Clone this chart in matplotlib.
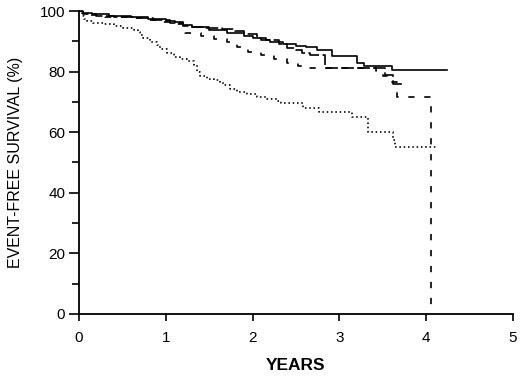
import matplotlib
matplotlib.use("Agg")
import matplotlib.pyplot as plt
from matplotlib.ticker import MultipleLocator

plt.rcParams['font.family'] = ['Liberation Sans', 'DejaVu Sans']
plt.rcParams['lines.scale_dashes'] = False

# solid curve
solid_t = [0, 0.05, 0.15, 0.35, 0.6, 0.8, 1.0, 1.1, 1.2, 1.3, 1.5, 1.7, 1.9, 2.0,
           2.1, 2.2, 2.35, 2.5, 2.62, 2.74, 2.92, 3.2, 3.28, 3.61, 4.24]
solid_s = [100, 99.2, 98.9, 98.4, 98.1, 97.4, 96.8, 96.4, 95.5, 94.8, 93.8, 92.8, 91.7, 91.2,
           90.3, 89.7, 89.1, 88.6, 88.0, 87.2, 85.0, 83.0, 82.0, 80.5, 80.5]

# long dashed curve
long_t = [0, 0.05, 0.2, 0.4, 0.65, 0.85, 1.05, 1.2, 1.3, 1.45, 1.65, 1.8, 1.9, 2.05,
          2.15, 2.3, 2.4, 2.5, 2.57, 2.66, 2.83, 3.52, 3.62, 3.72]
long_s = [100, 99.0, 98.5, 98.0, 97.6, 97.0, 96.2, 95.2, 94.6, 94.3, 94.1, 93.5, 92.3, 91.2,
          90.3, 89.0, 87.8, 87.0, 86.0, 85.5, 81.2, 79.0, 76.0, 76.0]

# short dashed curve
short_t = [0, 0.05, 0.3, 0.55, 0.75, 0.95, 1.1, 1.22, 1.4, 1.55, 1.7, 1.82, 1.95, 2.1,
           2.25, 2.4, 2.52, 2.62, 3.42, 3.5, 3.58, 3.66, 4.05]
short_s = [100, 98.8, 98.0, 97.6, 97.0, 96.3, 95.6, 92.8, 91.9, 90.9, 89.8, 88.2, 86.6, 85.6,
           84.2, 83.0, 81.7, 81.1, 80.3, 78.5, 76.5, 71.6, 0]

# dotted curve
dot_t = [0, 0.03, 0.06, 0.09, 0.16, 0.28, 0.4, 0.51, 0.63, 0.68, 0.7, 0.74, 0.82, 0.9,
         0.93, 1.01, 1.09, 1.16, 1.24, 1.32, 1.36, 1.39, 1.47, 1.55, 1.62, 1.66, 1.74,
         1.82, 1.93, 2.05, 2.16, 2.28, 2.33, 2.58, 2.77, 3.14, 3.33, 3.62, 3.64, 4.14]
dot_s = [100, 98.5, 97.3, 96.8, 96.2, 95.7, 95.0, 94.3, 93.7, 93.2, 92.1, 91.0, 89.9, 88.8,
         87.4, 86.0, 84.7, 84.1, 83.6, 82.2, 80.0, 78.4, 77.5, 77.2, 76.7, 75.6, 74.2,
         73.4, 72.6, 71.5, 70.9, 70.3, 69.7, 67.9, 66.7, 64.9, 60.1, 57.5, 55.0, 55.0]

fig = plt.figure(figsize=(5.2, 3.8), dpi=100)
ax = fig.add_axes([0.152, 0.174, 0.8345, 0.797])

lw = 1.2
ax.step(solid_t, solid_s, where='post', color='black', lw=lw)
ax.step(long_t, long_s, where='post', color='black', lw=lw, linestyle=(0, (9, 2.5)))
ax.step(short_t, short_s, where='post', color='black', lw=lw, linestyle=(0, (4.5, 7)),
        clip_on=False)
ax.step(dot_t, dot_s, where='post', color='black', lw=lw, linestyle=(0, (1.1, 2.0)))

ax.set_xlim(0, 5)
ax.set_ylim(0, 100)
ax.set_xticks([0, 1, 2, 3, 4, 5])
ax.set_yticks([0, 20, 40, 60, 80, 100])
ax.yaxis.set_minor_locator(MultipleLocator(10))

for side in ['top', 'right']:
    ax.spines[side].set_visible(False)
for side in ['left', 'bottom']:
    ax.spines[side].set_linewidth(1.3)

ax.tick_params(axis='x', direction='out', length=5, width=1.2, pad=7, labelsize=11)
ax.tick_params(axis='y', which='major', direction='out', length=7, width=1.2, pad=3,
               labelsize=11)
ax.tick_params(axis='y', which='minor', direction='out', length=5, width=1.2)

ax.set_xlabel('YEARS', fontsize=12.5, fontweight='bold', labelpad=10)
ax.set_ylabel('EVENT-FREE SURVIVAL (%)', fontsize=11.5, labelpad=12)

fig.savefig('out.png', dpi=100)
